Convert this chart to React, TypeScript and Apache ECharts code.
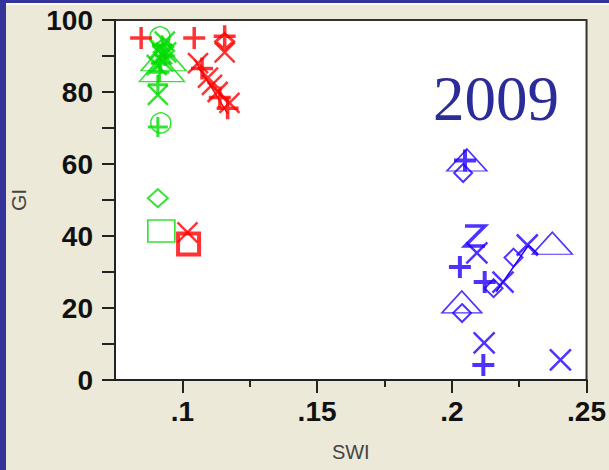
import React, { useEffect, useRef } from "react";
import * as echarts from "echarts";

// ---- data (SWI, GI) ----
const redPlus = [[0.0847, 95], [0.1044, 95], [0.1157, 95.5], [0.1073, 86.5], [0.1139, 78.5], [0.1168, 75.5]];
const redCross = [[0.1157, 91], [0.1058, 88], [0.1095, 84], [0.111, 82], [0.1131, 80], [0.1175, 77], [0.1019, 41]];
const redDiamond = [[0.1157, 94]];
const redSquare = [[0.1023, 37.8]];
const redLink = [[0.1045, 89], [0.1168, 74]];

const greenCircle = [[0.0917, 95.3], [0.092, 71.4]];
const greenTriangle = [[0.0924, 86.5], [0.093, 89.5]];
const greenPlus = [[0.0909, 82], [0.0909, 70.3], [0.0925, 93], [0.0935, 90], [0.092, 88], [0.0915, 85.5]];
const greenCross = [[0.0909, 79.2], [0.0915, 92], [0.0935, 94], [0.094, 91], [0.0928, 88.5], [0.0905, 87.5], [0.0925, 90.5]];
const greenDiamond = [[0.0909, 50.5], [0.093, 92.5]];
const greenSquare = [[0.0922, 41.4]];

const bluePlus = [[0.2049, 61], [0.203, 31.4], [0.2122, 27.2], [0.2117, 4.2]];
const blueCross = [[0.2093, 35.3], [0.219, 27.2], [0.228, 37.5], [0.212, 10.3], [0.2403, 5.6]];
const blueDiamond = [[0.2042, 57.5], [0.2155, 25.5], [0.2229, 34], [0.2038, 18.6]];
const blueTriangle = [[0.2056, 61.1], [0.2373, 38], [0.2037, 21.7]];
const blueZ = [[0.2086, 40]];
const blueLink = [[0.2165, 24.5], [0.2285, 37.5], [0.232, 35]];

const xTickValues = [0.075, 0.1, 0.125, 0.15, 0.175, 0.2, 0.225, 0.25];
const xTickLabels = ["", ".1", "", ".15", "", ".2", "", ".25"];
const yTickLabels = [0, 20, 40, 60, 80, 100];

const RED = "#ff0000";
const GREEN = "#00dc00";
const BLUE = "#2200ff";

const PLUS = "path://M10,0L10,20M0,10L20,10";
const CROSS = "path://M0,0L20,20M20,0L0,20";
const ZED = "path://M0,0L20,0L0,20L20,20";

function sc(data: number[][], color: string, symbol: string, size: any, width: number) {
  return {
    type: "scatter",
    data,
    symbol,
    symbolSize: size,
    itemStyle: { color: "transparent", borderColor: color, borderWidth: width },
    emphasis: { disabled: true },
    z: 3,
  };
}
function ln(data: number[][], color: string) {
  return {
    type: "line",
    data,
    symbol: "none",
    lineStyle: { color, width: 1.5 },
    z: 2,
  };
}

export default function App() {
  const ref = useRef<HTMLDivElement>(null);
  useEffect(() => {
    const chart = echarts.init(ref.current!, null, { renderer: "svg" });
    chart.setOption({
      animation: false,
      backgroundColor: "#ece9d8",
      grid: {
        left: 112,
        top: 20,
        right: 17,
        bottom: 90,
        show: true,
        backgroundColor: "#ffffff",
        borderColor: "#333333",
        borderWidth: 2,
      },
      xAxis: [
        {
          type: "value",
          min: 0.075,
          max: 0.25,
          interval: 0.025,
          axisLine: { show: true, lineStyle: { color: "#222", width: 2 } },
          axisTick: { show: false },
          axisLabel: { show: false },
          splitLine: { show: false },
          name: "SWI",
          nameLocation: "middle",
          nameGap: 62,
          nameTextStyle: { fontFamily: "Liberation Sans", fontSize: 20, color: "#444" },
        },
        {
          type: "category",
          position: "bottom",
          boundaryGap: false,
          data: xTickValues.map(String),
          axisLine: { show: false },
          axisTick: {
            show: true,
            length: 7,
            interval: (i: number) => i % 2 === 0 && i > 0,
            lineStyle: { color: "#222", width: 2 },
          },
          axisLabel: { show: false },
          splitLine: { show: false },
        },
        {
          type: "category",
          position: "bottom",
          boundaryGap: false,
          data: xTickLabels,
          axisLine: { show: false },
          axisTick: {
            show: true,
            length: 13,
            interval: (i: number) => i % 2 === 1,
            lineStyle: { color: "#222", width: 2 },
          },
          axisLabel: {
            show: true,
            interval: (i: number) => i % 2 === 1,
            margin: 17,
            fontFamily: "Liberation Sans",
            fontWeight: "bold",
            fontSize: 28,
            color: "#111",
          },
          splitLine: { show: false },
        },
      ],
      yAxis: {
        type: "value",
        min: 0,
        max: 100,
        interval: 10,
        axisLine: { show: true, lineStyle: { color: "#222", width: 2 } },
        axisTick: { show: true, length: 13, lineStyle: { color: "#222", width: 2 } },
        axisLabel: {
          margin: 22,
          fontFamily: "Liberation Sans",
          fontWeight: "bold",
          fontSize: 28,
          color: "#111",
          formatter: (v: number) => (yTickLabels.includes(v) ? String(v) : ""),
        },
        splitLine: { show: false },
        name: "GI",
        nameLocation: "middle",
        nameGap: 86,
        nameTextStyle: { fontFamily: "Liberation Sans", fontSize: 21, color: "#444" },
      },
      graphic: [
        { type: "rect", shape: { x: 0, y: 0, width: 609, height: 3 }, style: { fill: "#333399" } },
        { type: "rect", shape: { x: 0, y: 3, width: 609, height: 2 }, style: { fill: "#fbfaf4" } },
        { type: "rect", shape: { x: 0, y: 0, width: 6, height: 470 }, style: { fill: "#333399" } },
        {
          type: "text",
          x: 433,
          y: 99,
          style: {
            text: "2009",
            fontFamily: "Liberation Serif",
            fontSize: 63,
            fill: "#2b2b99",
            textAlign: "left",
            textVerticalAlign: "middle",
          },
          z: 10,
        },
      ],
      series: [
        ln(redLink, RED),
        ln(blueLink, BLUE),
        sc(greenTriangle, GREEN, "triangle", [45, 26], 1.5),
        sc(greenCircle, GREEN, "circle", 20, 1.5),
        sc(greenPlus, GREEN, PLUS, 20, 3),
        sc(greenCross, GREEN, CROSS, 20, 2.5),
        sc(greenDiamond, GREEN, "diamond", [20, 18], 2),
        sc(greenSquare, GREEN, "rect", [27, 22], 1.5),
        sc(redPlus, RED, PLUS, 22, 3.5),
        sc(redCross, RED, CROSS, 20, 2.5),
        sc(redDiamond, RED, "diamond", [18, 16], 3),
        sc(redSquare, RED, "rect", [21, 21], 4),
        sc(blueTriangle, BLUE, "triangle", [40, 22], 1.5),
        sc(bluePlus, BLUE, PLUS, 22, 4),
        sc(blueCross, BLUE, CROSS, 21, 2.5),
        sc(blueDiamond, BLUE, "diamond", [18, 18], 2),
        sc(blueZ, BLUE, ZED, [20, 20], 3.5),
      ],
    });
    return () => chart.dispose();
  }, []);
  return (
    <div
      ref={ref}
      style={{ position: "absolute", left: 0, top: 0, width: 609, height: 470 }}
    />
  );
}
